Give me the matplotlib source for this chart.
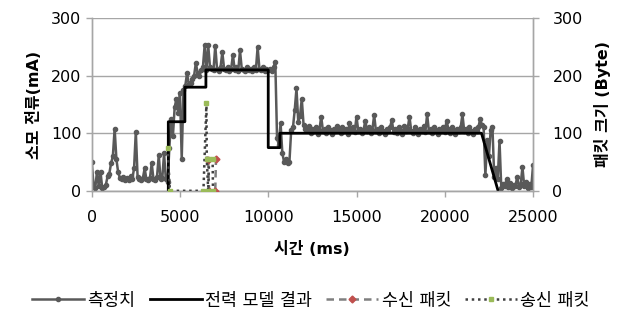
"""Measured current vs. power model with packet sizes."""

import matplotlib
matplotlib.use("Agg")
import matplotlib.pyplot as plt
import numpy as np

plt.rcParams["font.family"] = ["DejaVu Sans", "Noto Sans CJK KR"]

# measured current (mA), one value per 100 ms from 0 to 25000 ms
meas_step = 100
meas_ma = [
    50, 12, 5, 33, 8, 33, 4, 6, 10, 25,
    30, 48, 60, 108, 55, 32, 22, 20, 24, 18,
    22, 18, 25, 20, 39, 103, 24, 20, 18, 22,
    39, 20, 18, 22, 48, 20, 18, 24, 62, 20,
    22, 65, 20, 15, 75, 125, 95, 145, 160, 135,
    170, 56, 175, 182, 204, 185, 188, 195, 200, 222,
    205, 200, 210, 215, 253, 210, 253, 215, 212, 210,
    252, 212, 208, 215, 241, 212, 210, 215, 208, 212,
    236, 210, 215, 208, 244, 212, 210, 208, 215, 210,
    212, 208, 215, 210, 250, 212, 210, 215, 208, 212,
    210, 212, 208, 215, 224, 91, 80, 117, 65, 50,
    55, 49, 50, 105, 110, 140, 178, 120, 130, 160,
    115, 108, 105, 112, 100, 108, 104, 110, 98, 106,
    129, 104, 108, 100, 110, 105, 98, 108, 104, 112,
    106, 100, 110, 104, 108, 98, 117, 105, 110, 102,
    129, 104, 108, 100, 106, 122, 104, 110, 100, 106,
    132, 104, 108, 100, 110, 104, 98, 108, 104, 110,
    123, 102, 108, 100, 110, 104, 98, 112, 104, 108,
    129, 104, 100, 110, 106, 98, 108, 104, 112, 102,
    133, 104, 108, 100, 110, 104, 98, 108, 104, 110,
    102, 122, 108, 100, 110, 104, 98, 108, 104, 110,
    133, 104, 108, 100, 110, 104, 98, 108, 104, 110,
    124, 115, 110, 27, 88, 60, 106, 110, 24, 40,
    20, 87, 5, 12, 8, 20, 6, 14, 5, 10,
    8, 24, 6, 12, 41, 8, 15, 5, 12, 6,
    45,
]

# power model (mA)
model_t = [4340, 4340, 5280, 5280, 6470, 6470, 10000, 10000, 10660, 10660, 22080, 23020]
model_ma = [0, 120, 120, 180, 180, 210, 210, 75, 75, 100, 100, 0]

# packet sizes (Byte)
recv_t = [6600, 6650, 7000, 7040]
recv_b = [53, 0, 0, 55]
sent_t = [4300, 4430, 6330, 6500, 6520, 6600, 6650, 6850, 6870]
sent_b = [75, 0, 0, 153, 55, 0, 55, 55, 0]

x_ticks = [0, 5000, 10000, 15000, 20000, 25000]
y_ticks = [0, 100, 200, 300]

meas_t = np.arange(len(meas_ma)) * meas_step

fig = plt.figure(figsize=(6.22, 3.18), dpi=100)
ax = fig.add_axes([0.1474, 0.400, 0.7096, 0.543])
ax2 = ax.twinx()

grid_c = "#a6a6a6"
ax.set_xlim(0, 25000)
ax.set_ylim(0, 300)
ax2.set_ylim(0, 300)
ax.set_xticks(x_ticks)
ax.set_yticks(y_ticks)
ax2.set_yticks(y_ticks)
ax.yaxis.grid(True, color=grid_c, lw=1)
ax.set_axisbelow(True)

for a in (ax, ax2):
    a.spines["top"].set_visible(False)
    for s in ("left", "right", "bottom"):
        a.spines[s].set_color(grid_c)
        a.spines[s].set_linewidth(1)
    a.tick_params(colors=grid_c, labelcolor="black", labelsize=11.5, length=4, width=1)
ax.tick_params(axis="x", pad=10)
ax2.tick_params(axis="y", pad=10)

l_meas, = ax.plot(meas_t, meas_ma, color="#595959", lw=1.8, marker="o", ms=3,
                  label="측정치", zorder=3)
l_model, = ax.plot(model_t, model_ma, color="black", lw=2, label="전력 모델 결과", zorder=4)
l_recv, = ax2.plot(recv_t, recv_b, color="#7f7f7f", lw=1.8, ls=(0, (3, 2)), marker="D",
                   ms=3.5, mfc="#c0504d", mec="#c0504d", label="수신 패킷", zorder=5)
l_sent, = ax2.plot(sent_t, sent_b, color="#404040", lw=1.8, ls=(0, (1, 1.5)), marker="s",
                   ms=3.5, mfc="#9bbb59", mec="#9bbb59", label="송신 패킷", zorder=6)

ax.set_xlabel("시간 (ms)", fontsize=11.5, fontweight="bold", labelpad=11)
ax.set_ylabel("소모 전류(mA)", fontsize=11.5, fontweight="bold", labelpad=6)
ax2.set_ylabel("패킷 크기 (Byte)", fontsize=11.5, fontweight="bold", labelpad=8)

fig.legend(handles=[l_meas, l_model, l_recv, l_sent], loc="center",
           bbox_to_anchor=(0.5, 0.055), ncol=4, frameon=False, fontsize=12.5,
           handlelength=3.0, handletextpad=0.2, columnspacing=0.8)

fig.savefig("out.png", dpi=100)
